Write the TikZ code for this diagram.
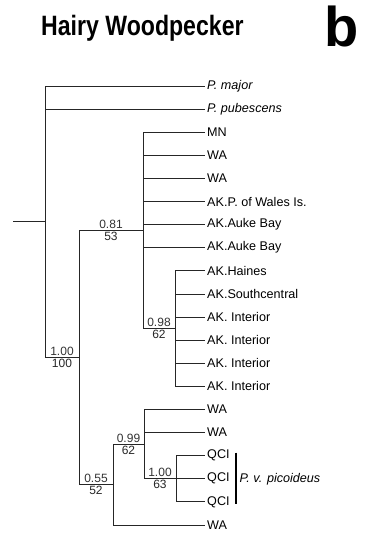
\documentclass[tikz,border=0pt]{standalone}
\usepackage{fontspec}
\setmainfont{Liberation Sans}
\newfontfamily\titlefont[FakeStretch=0.825]{Liberation Sans}
\usepackage{tikz}
\usetikzlibrary{positioning}

\begin{document}
\begin{tikzpicture}[
  x=1pt, y=-1pt,
  tip/.style={anchor=west, inner sep=2pt, font=\fontsize{12.6}{12.6}\selectfont},
  branch/.style={line width=0.8pt, black!85},
  pp/.style={font=\fontsize{12}{12}\selectfont, inner sep=1.5pt, pos=0.75, black!80},
  bs/.style={font=\fontsize{12}{12}\selectfont, inner sep=1.5pt, pos=0.75}]
\useasboundingbox (0,0) rectangle (370,560);
% title
\node[anchor=base west, inner sep=0, font=\titlefont\bfseries\fontsize{28}{28}\selectfont] (title) at (41,35.7) {Hairy Woodpecker};
\node[anchor=base west, inner sep=0, font=\bfseries\fontsize{56}{56}\selectfont] (panel) at (324,46) {b};
% internal nodes
\coordinate (stub) at (13,221.7);
\coordinate (root) at (45,221.7);
\coordinate (n100) at (79,357.4);
\coordinate (n081) at (143,230.4);
\coordinate (n098) at (175,328.6);
\coordinate (n055) at (113,484.5);
\coordinate (n099) at (144,444.1);
\coordinate (n100q) at (176,478.7);
% tips
\node[tip] (major) at (205,86) {\itshape P. major};
\node[tip] (pubes) at (205,109.1) {\itshape P. pubescens};
\node[tip] (mn) at (205,132.2) {MN};
\node[tip] (wa1) at (205,155.3) {WA};
\node[tip] (wa2) at (205,178.4) {WA};
\node[tip] (akpw) at (205,201.5) {AK.P. of Wales Is.};
\node[tip] (akab1) at (205,224.6) {AK.Auke Bay};
\node[tip] (akab2) at (205,247.7) {AK.Auke Bay};
\node[tip] (akha) at (205,270.8) {AK.Haines};
\node[tip] (aksc) at (205,293.9) {AK.Southcentral};
\node[tip] (akin1) at (205,317) {AK. Interior};
\node[tip] (akin2) at (205,340.1) {AK. Interior};
\node[tip] (akin3) at (205,363.2) {AK. Interior};
\node[tip] (akin4) at (205,386.3) {AK. Interior};
\node[tip] (wa3) at (205,409.4) {WA};
\node[tip] (wa4) at (205,432.5) {WA};
\node[tip] (qci1) at (205,455.6) {QCI};
\node[tip] (qci2) at (205,478.7) {QCI};
\node[tip] (qci3) at (205,501.8) {QCI};
\node[tip] (wa5) at (205,524.9) {WA};
% branches
\draw[branch] (stub) -- (root);
\draw[branch] (root) |- (major.west);
\draw[branch] (root) |- (pubes.west);
\draw[branch] (root) |- node[pp, above] {1.00} node[bs, below] {100} (n100);
\draw[branch] (n100) |- node[pp, above] {0.81} node[bs, below] {53} (n081);
\draw[branch] (n100) |- node[pp, above] {0.55} node[bs, below] {52} (n055);
\draw[branch] (n081) |- (mn.west);
\draw[branch] (n081) |- (wa1.west);
\draw[branch] (n081) |- (wa2.west);
\draw[branch] (n081) |- (akpw.west);
\draw[branch] (n081) |- (akab1.west);
\draw[branch] (n081) |- (akab2.west);
\draw[branch] (n081) |- node[pp, above] {0.98} node[bs, below] {62} (n098);
\draw[branch] (n098) |- (akha.west);
\draw[branch] (n098) |- (aksc.west);
\draw[branch] (n098) |- (akin1.west);
\draw[branch] (n098) |- (akin2.west);
\draw[branch] (n098) |- (akin3.west);
\draw[branch] (n098) |- (akin4.west);
\draw[branch] (n055) |- node[pp, above] {0.99} node[bs, below] {62} (n099);
\draw[branch] (n055) |- (wa5.west);
\draw[branch] (n099) |- (wa3.west);
\draw[branch] (n099) |- (wa4.west);
\draw[branch] (n099) |- node[pp, above] {1.00} node[bs, below] {63} (n100q);
\draw[branch] (n100q) |- (qci1.west);
\draw[branch] (n100q) |- (qci2.west);
\draw[branch] (n100q) |- (qci3.west);
% subspecies bar
\coordinate (bartop) at (236,452.7);
\coordinate (barbot) at (236,504);
\draw[line width=2.6pt] (bartop) -- (barbot);
\node[tip, font=\fontsize{12.6}{12.6}\selectfont\itshape] (pvp) at (237.5,479) {P. v. picoideus};
\end{tikzpicture}
\end{document}
